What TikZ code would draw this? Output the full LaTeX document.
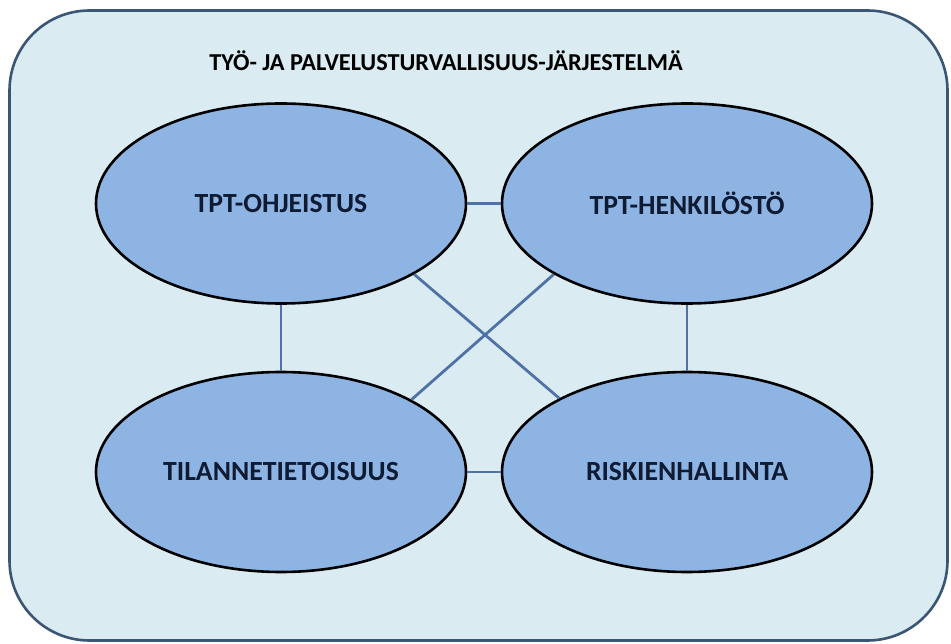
\documentclass[tikz,border=0pt]{standalone}
\usepackage{fontspec}
\setmainfont{Carlito}
\usetikzlibrary{shapes.geometric}
\definecolor{panelfill}{HTML}{DBEBF2}
\definecolor{panelline}{HTML}{3B5574}
\definecolor{ovalfill}{HTML}{8EB4E3}
\definecolor{linkblue}{HTML}{4F72A6}
\definecolor{labelnavy}{HTML}{0F1B33}
\begin{document}
\begin{tikzpicture}[x=1pt,y=-1pt,
  topic/.style={ellipse, draw=black, line width=2.6pt, fill=ovalfill,
    minimum width=370pt, minimum height=200pt, inner sep=0pt,
    font=\fontsize{27.7}{32}\selectfont\bfseries, text=labelnavy},
  link/.style={draw=linkblue, line width=2.8pt}]
\useasboundingbox (0,0) rectangle (951,644);
\fill[white] (0,0) rectangle (951,644);

% outer system panel
\node[draw=panelline, line width=2.6pt, fill=panelfill, rounded corners=80pt,
  minimum width=938pt, minimum height=630pt, inner sep=0pt] (panel) at (478.5,325.5) {};
\node[font=\fontsize{24.3}{29}\selectfont\bfseries, text=black] (title) at (446,61)
  {TYÖ- JA PALVELUSTURVALLISUUS-JÄRJESTELMÄ};

% the four parts of the system
\node[topic] (ohje) at (281,203.5) {TPT-OHJEISTUS};
\node[topic] (henk) at (687,203.5) {TPT-HENKILÖSTÖ};
\node[topic] (tila) at (281,472) {TILANNETIETOISUUS};
\node[topic] (riski) at (687,472) {RISKIENHALLINTA};

% connections
\draw[link] (ohje.east) -- (henk.west);
\draw[link] (tila.east) -- (riski.west);
\draw[link] (ohje.south) -- (tila.north);
\draw[link] (henk.south) -- (riski.north);
\draw[link] (ohje.-28.4) -- (riski.150.4);
\draw[link] (henk.208.4) -- (tila.29.8);
\end{tikzpicture}
\end{document}
